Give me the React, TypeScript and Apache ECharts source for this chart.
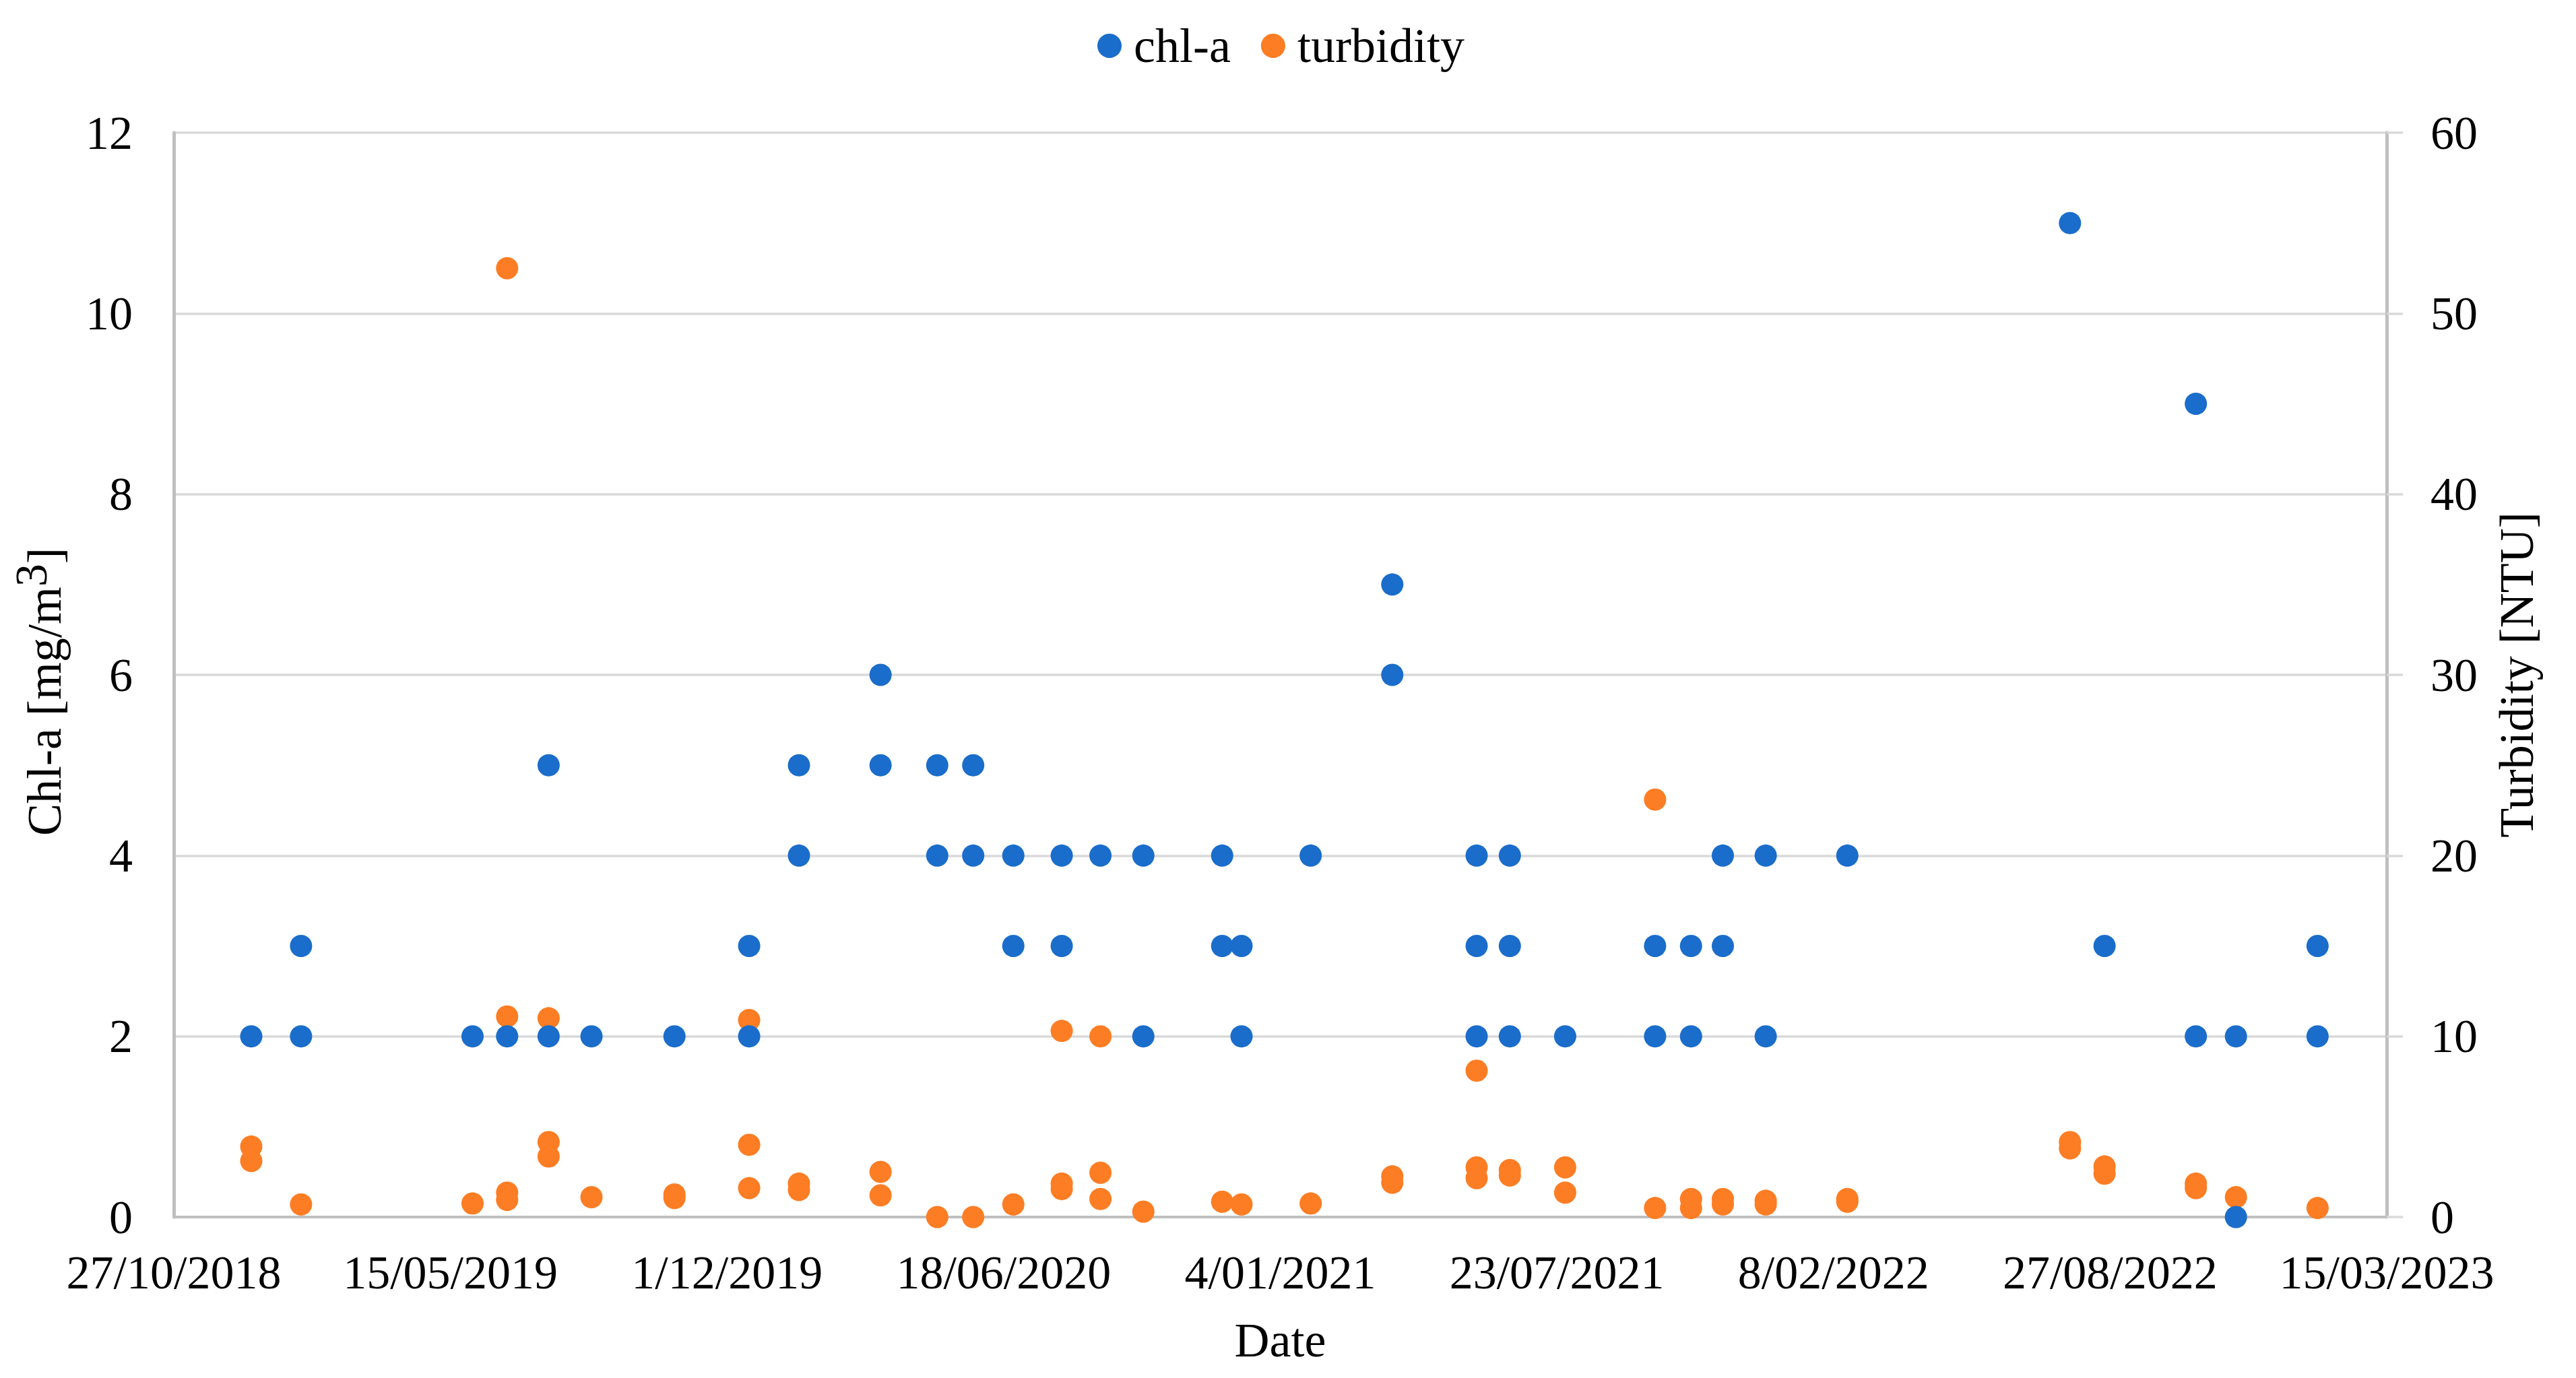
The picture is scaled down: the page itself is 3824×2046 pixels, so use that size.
import React, { useEffect, useRef } from "react";
import * as echarts from "echarts";

// ---------- data ----------
const BASE_DATE = "2018-10-27"; // x axis start (27/10/2018)
const X_STEP_DAYS = 200;
const X_MAX_DAYS = 1600; // 15/03/2023

const chlDates = [
  "2018-12-22",
  "2019-01-27", "2019-01-27",
  "2019-05-31",
  "2019-06-25",
  "2019-07-25", "2019-07-25",
  "2019-08-25",
  "2019-10-24",
  "2019-12-17", "2019-12-17",
  "2020-01-22", "2020-01-22",
  "2020-03-21", "2020-03-21",
  "2020-05-01", "2020-05-01",
  "2020-05-27", "2020-05-27",
  "2020-06-25", "2020-06-25",
  "2020-07-30", "2020-07-30",
  "2020-08-27",
  "2020-09-27", "2020-09-27",
  "2020-11-23", "2020-11-23",
  "2020-12-07", "2020-12-07",
  "2021-01-26",
  "2021-03-26", "2021-03-26",
  "2021-05-26", "2021-05-26", "2021-05-26",
  "2021-06-19", "2021-06-19", "2021-06-19",
  "2021-07-29",
  "2021-10-02", "2021-10-02",
  "2021-10-28", "2021-10-28",
  "2021-11-20", "2021-11-20",
  "2021-12-21", "2021-12-21",
  "2022-02-18",
  "2022-07-29",
  "2022-08-23",
  "2022-10-28", "2022-10-28",
  "2022-11-26", "2022-11-26",
  "2023-01-24", "2023-01-24",
];
const chlValues = [
  2,
  3, 2,
  2,
  2,
  5, 2,
  2,
  2,
  3, 2,
  5, 4,
  6, 5,
  5, 4,
  5, 4,
  4, 3,
  4, 3,
  4,
  4, 2,
  4, 3,
  3, 2,
  4,
  7, 6,
  4, 3, 2,
  4, 3, 2,
  2,
  3, 2,
  3, 2,
  4, 3,
  4, 2,
  4,
  11,
  3,
  9, 2,
  2, 0,
  3, 2,
];

const turbDates = [
  "2018-12-22", "2018-12-22",
  "2019-01-27",
  "2019-05-31",
  "2019-06-25", "2019-06-25", "2019-06-25", "2019-06-25",
  "2019-07-25", "2019-07-25", "2019-07-25",
  "2019-08-25",
  "2019-10-24", "2019-10-24",
  "2019-12-17", "2019-12-17", "2019-12-17",
  "2020-01-22", "2020-01-22",
  "2020-03-21", "2020-03-21",
  "2020-05-01",
  "2020-05-27",
  "2020-06-25",
  "2020-07-30", "2020-07-30", "2020-07-30",
  "2020-08-27", "2020-08-27", "2020-08-27",
  "2020-09-27",
  "2020-11-23",
  "2020-12-07",
  "2021-01-26",
  "2021-03-26", "2021-03-26",
  "2021-05-26", "2021-05-26", "2021-05-26",
  "2021-06-19", "2021-06-19",
  "2021-07-29", "2021-07-29",
  "2021-10-02", "2021-10-02",
  "2021-10-28", "2021-10-28",
  "2021-11-20", "2021-11-20",
  "2021-12-21", "2021-12-21",
  "2022-02-18", "2022-02-18",
  "2022-07-29", "2022-07-29",
  "2022-08-23", "2022-08-23",
  "2022-10-28", "2022-10-28",
  "2022-11-26",
  "2023-01-24",
];
const turbValues = [
  3.9, 3.1,
  0.7,
  0.75,
  52.5, 11.1, 1.35, 0.95,
  11.0, 4.15, 3.35,
  1.1,
  1.25, 1.05,
  10.9, 4.0, 1.6,
  1.85, 1.5,
  2.5, 1.2,
  0,
  0,
  0.7,
  10.3, 1.85, 1.55,
  10.0, 2.45, 1.0,
  0.3,
  0.85,
  0.7,
  0.75,
  2.25, 1.9,
  8.1, 2.75, 2.15,
  2.6, 2.3,
  2.75, 1.35,
  23.1, 0.5,
  1.0, 0.5,
  1.0, 0.7,
  0.9, 0.7,
  1.0, 0.85,
  4.15, 3.8,
  2.8, 2.4,
  1.85, 1.6,
  1.1,
  0.5,
];

const CHL_AXIS = { min: 0, max: 12, interval: 2 };
const TURB_AXIS = { min: 0, max: 60, interval: 10 };

const SERIES_NAMES = ["chl-a", "turbidity"];
const COLORS = { chl: "#1a6dca", turb: "#fd7d24" };

// ---------- helpers ----------
const DAY_MS = 86400000;
const baseMs = Date.parse(BASE_DATE + "T00:00:00Z");
const toDays = (iso: string) => Math.round((Date.parse(iso + "T00:00:00Z") - baseMs) / DAY_MS);
const fmtDate = (days: number) => {
  const d = new Date(baseMs + days * DAY_MS);
  const dd = d.getUTCDate();
  const mm = String(d.getUTCMonth() + 1).padStart(2, "0");
  return `${dd}/${mm}/${d.getUTCFullYear()}`;
};

const FONT = '"Liberation Serif", "Times New Roman", serif';

export default function App() {
  const ref = useRef<HTMLDivElement>(null);

  useEffect(() => {
    document.body.style.margin = "0";
    if (!ref.current) return;
    const chart = echarts.init(ref.current, null, { renderer: "svg" });

    const chlData = chlDates.map((d, i) => [toDays(d), chlValues[i]]);
    const turbData = turbDates.map((d, i) => [toDays(d), turbValues[i]]);

    chart.setOption({
      animation: false,
      backgroundColor: "#ffffff",
      textStyle: { fontFamily: FONT, color: "#000" },
      legend: {
        data: SERIES_NAMES,
        left: 1624,
        top: 27,
        itemWidth: 62,
        itemHeight: 36,
        itemGap: 45,
        icon: "circle",
        textStyle: { fontFamily: FONT, fontSize: 72, color: "#000" },
      },
      grid: { left: 258, right: 281, top: 197, bottom: 239, containLabel: false },
      xAxis: {
        type: "value",
        min: 0,
        max: X_MAX_DAYS,
        interval: X_STEP_DAYS,
        name: "Date",
        nameLocation: "middle",
        nameGap: 147,
        nameTextStyle: { fontFamily: FONT, fontSize: 72, color: "#000" },
        axisLine: { show: true, onZero: false, lineStyle: { color: "#bfbfbf", width: 4 } },
        axisTick: { show: false },
        splitLine: { show: false },
        axisLabel: {
          formatter: (v: number) => fmtDate(v),
          fontFamily: FONT,
          fontSize: 70,
          color: "#000",
          margin: 47,
          showMinLabel: true,
          showMaxLabel: true,
        },
      },
      yAxis: [
        {
          type: "value",
          position: "left",
          min: CHL_AXIS.min,
          max: CHL_AXIS.max,
          interval: CHL_AXIS.interval,
          name: "{a|Chl-a [mg/m}{s|3}{a|]}",
          nameLocation: "middle",
          nameGap: 156,
          nameTextStyle: {
            fontFamily: FONT,
            fontSize: 72,
            color: "#000",
            padding: [0, 50, 0, 0],
            rich: {
              a: { fontFamily: FONT, fontSize: 72, lineHeight: 72, verticalAlign: "bottom", color: "#000" },
              s: { fontFamily: FONT, fontSize: 68, lineHeight: 112, verticalAlign: "middle", color: "#000" },
            },
          },
          axisLine: { show: true, lineStyle: { color: "#bfbfbf", width: 5 } },
          axisTick: { show: false },
          axisLabel: { fontFamily: FONT, fontSize: 70, color: "#000", margin: 61 },
          splitLine: { show: true, lineStyle: { color: "#d9d9d9", width: 3.5 } },
        },
        {
          type: "value",
          position: "right",
          min: TURB_AXIS.min,
          max: TURB_AXIS.max,
          interval: TURB_AXIS.interval,
          name: "Turbidity [NTU]",
          nameLocation: "middle",
          nameGap: 157,
          nameTextStyle: { fontFamily: FONT, fontSize: 72, color: "#000" },
          axisLine: { show: true, lineStyle: { color: "#bfbfbf", width: 5 } },
          axisTick: { show: true, inside: false, length: 24, lineStyle: { color: "#d9d9d9", width: 3.5 } },
          axisLabel: { fontFamily: FONT, fontSize: 70, color: "#000", margin: 65 },
          splitLine: { show: false },
        },
      ],
      series: [
        {
          name: "turbidity",
          type: "scatter",
          yAxisIndex: 1,
          data: turbData,
          symbol: "circle",
          symbolSize: 33,
          itemStyle: { color: COLORS.turb, opacity: 1 },
          z: 2,
        },
        {
          name: "chl-a",
          type: "scatter",
          yAxisIndex: 0,
          data: chlData,
          symbol: "circle",
          symbolSize: 33,
          itemStyle: { color: COLORS.chl, opacity: 1 },
          z: 3,
        },
      ],
    });

    return () => chart.dispose();
  }, []);

  return <div ref={ref} style={{ width: 3824, height: 2046 }} />;
}
